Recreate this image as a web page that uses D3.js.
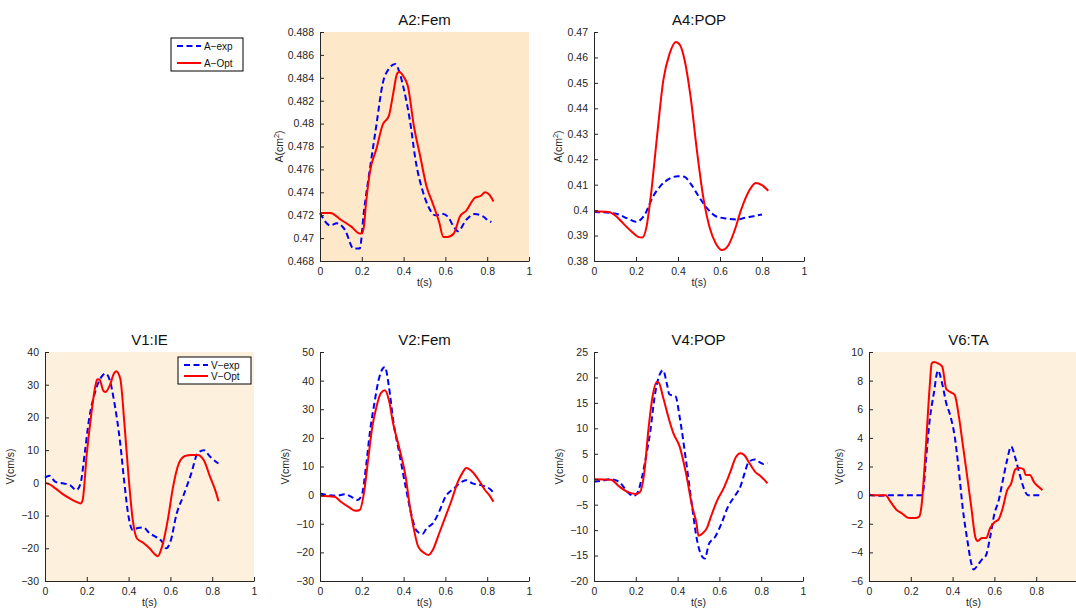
<!DOCTYPE html>
<html><head><meta charset="utf-8">
<script src="https://cdn.jsdelivr.net/npm/d3@7"></script>
<style>body{margin:0;background:#fff}svg{display:block;font-family:"Liberation Sans",Arial,Helvetica,sans-serif}</style>
</head><body><svg id="c" width="1076" height="611"></svg>
<script>
// ---------- data ----------
const a2ExpT = [0,0.05,0.08,0.12,0.16,0.19,0.21,0.24,0.27,0.30,0.33,0.36,0.38,0.40,0.43,0.46,0.49,0.52,0.55,0.59,0.61,0.64,0.66,0.70,0.74,0.78,0.80,0.82];
const a2Exp  = [0.4722,0.4711,0.4713,0.4707,0.4691,0.4691,0.4723,0.4762,0.4799,0.4835,0.4848,0.4852,0.4845,0.4831,0.4803,0.4765,0.4742,0.4727,0.4720,0.4721,0.4719,0.4710,0.4706,0.4716,0.4721,0.4719,0.4716,0.4714];
const a2OptT = [0,0.05,0.10,0.15,0.19,0.20,0.21,0.22,0.24,0.27,0.30,0.33,0.35,0.37,0.38,0.40,0.42,0.45,0.48,0.51,0.54,0.57,0.59,0.61,0.64,0.67,0.70,0.74,0.77,0.79,0.81,0.83];
const a2Opt  = [0.4722,0.4722,0.4716,0.4710,0.4704,0.4704,0.4710,0.4730,0.4759,0.4778,0.4799,0.4807,0.4826,0.4844,0.4845,0.4841,0.4833,0.4797,0.4771,0.4745,0.4730,0.4714,0.4701,0.4701,0.4704,0.4719,0.4724,0.4735,0.4737,0.4740,0.4738,0.4732];

const a4ExpT = [0,0.10,0.16,0.20,0.24,0.28,0.32,0.36,0.40,0.43,0.46,0.50,0.54,0.58,0.63,0.68,0.72,0.76,0.80];
const a4Exp  = [0.3993,0.3987,0.3967,0.3954,0.3980,0.4052,0.4098,0.4124,0.4133,0.4131,0.4104,0.4052,0.4006,0.3976,0.3967,0.3963,0.3970,0.3976,0.3983];
const a4OptT = [0,0.07,0.10,0.14,0.18,0.21,0.23,0.25,0.27,0.30,0.33,0.36,0.39,0.41,0.43,0.46,0.49,0.52,0.55,0.58,0.61,0.64,0.67,0.70,0.74,0.77,0.80,0.83];
const a4Opt  = [0.3996,0.3993,0.3980,0.3947,0.3915,0.3895,0.3892,0.3934,0.4052,0.4288,0.4510,0.4615,0.4661,0.4648,0.4595,0.4445,0.4235,0.4052,0.3934,0.3869,0.3843,0.3862,0.3921,0.4000,0.4078,0.4107,0.4098,0.4076];

const v1ExpT = [0,0.02,0.05,0.09,0.12,0.15,0.17,0.19,0.21,0.24,0.27,0.29,0.31,0.33,0.36,0.38,0.40,0.42,0.44,0.47,0.50,0.53,0.56,0.58,0.60,0.63,0.66,0.70,0.73,0.76,0.79,0.83];
const v1Exp  = [1.6,2.2,0.3,-0.2,-0.7,-2.2,-0.2,9.0,19.1,27.8,32.4,33.4,31.4,25.2,12.0,-0.2,-10.4,-14.4,-13.9,-13.6,-15.4,-16.5,-18.0,-20.0,-18.0,-9.4,-4.3,2.9,9.0,10.0,8.0,5.9];
const v1OptT = [0,0.02,0.05,0.08,0.12,0.15,0.17,0.18,0.20,0.22,0.24,0.25,0.26,0.28,0.29,0.31,0.33,0.34,0.36,0.38,0.40,0.42,0.44,0.47,0.50,0.53,0.54,0.56,0.59,0.61,0.64,0.67,0.70,0.73,0.76,0.79,0.82,0.83];
const v1Opt  = [0.0,-0.4,-1.7,-3.2,-4.8,-5.8,-6.3,-5.3,9.0,20.2,29.3,31.7,31.6,28.1,27.8,29.8,33.4,34.1,31.9,18.1,1.8,-11.4,-17.0,-18.3,-20.0,-22.1,-22.4,-19.5,-10.4,-2.2,5.9,8.2,8.5,8.5,6.9,1.8,-3.3,-5.6];

const v2ExpT = [0,0.04,0.08,0.12,0.15,0.18,0.20,0.22,0.24,0.26,0.28,0.30,0.31,0.33,0.35,0.38,0.41,0.44,0.46,0.49,0.51,0.54,0.57,0.60,0.64,0.68,0.70,0.73,0.77,0.81,0.83];
const v2Exp  = [0.6,0.0,-0.2,0.3,-0.6,-1.7,0.0,9.9,22.7,32.0,40.1,44.2,44.8,37.8,26.2,14.5,2.8,-7.6,-12.2,-13.6,-11.6,-9.9,-5.8,-0.6,2.3,4.7,5.2,4.1,3.5,2.3,0.9];
const v2OptT = [0,0.07,0.10,0.14,0.17,0.19,0.21,0.23,0.25,0.27,0.29,0.31,0.33,0.35,0.38,0.41,0.43,0.45,0.47,0.50,0.52,0.54,0.57,0.60,0.63,0.66,0.68,0.70,0.73,0.76,0.79,0.81,0.83];
const v2Opt  = [-0.2,-0.6,-2.3,-4.3,-5.5,-5.2,0.6,12.2,23.8,30.8,35.5,36.6,33.1,25.0,16.3,6.4,-4.1,-12.2,-18.0,-20.3,-20.9,-19.1,-13.4,-7.6,-1.7,4.7,7.6,9.5,8.1,5.2,1.7,0.0,-2.3];

const v4ExpT = [0,0.04,0.08,0.12,0.16,0.19,0.21,0.23,0.25,0.27,0.29,0.31,0.33,0.35,0.36,0.39,0.41,0.44,0.47,0.49,0.51,0.53,0.55,0.58,0.61,0.64,0.67,0.70,0.72,0.74,0.77,0.79,0.81,0.83];
const v4Exp  = [-0.5,-0.3,0.0,-0.5,-2.5,-3.3,-2.5,0.5,4.7,9.6,16.2,20.1,21.4,18.5,16.7,16.3,12.2,3.7,-5.5,-11.3,-14.6,-15.6,-12.7,-11.3,-8.7,-5.5,-3.5,-1.5,1.1,3.4,3.9,3.4,3.0,3.2];
const v4OptT = [0,0.08,0.12,0.16,0.20,0.22,0.24,0.26,0.28,0.30,0.31,0.33,0.36,0.38,0.41,0.44,0.47,0.49,0.50,0.52,0.54,0.56,0.59,0.62,0.65,0.68,0.70,0.72,0.74,0.77,0.80,0.83];
const v4Opt  = [0.0,-0.1,-1.4,-2.5,-2.9,-2.5,1.1,9.6,16.2,19.1,19.0,16.2,11.6,9.0,6.4,1.2,-5.4,-8.6,-11.1,-10.6,-9.6,-7.3,-4.1,-1.8,1.2,4.4,5.1,4.7,3.4,1.5,0.5,-0.8];

const v6ExpT = [0,0.05,0.10,0.20,0.25,0.26,0.27,0.29,0.31,0.33,0.35,0.37,0.39,0.41,0.43,0.45,0.47,0.49,0.50,0.52,0.54,0.56,0.58,0.60,0.62,0.64,0.66,0.68,0.70,0.72,0.74,0.76,0.80,0.83];
const v6Exp  = [0.05,-0.05,0.0,0.0,0.0,0.35,2.0,5.2,7.1,8.7,7.8,6.4,5.5,4.1,1.7,-1.1,-3.1,-4.8,-5.2,-4.9,-4.5,-4.2,-2.9,-1.3,-0.4,1.0,2.4,3.4,2.6,1.5,0.5,0.0,0.0,0.0];
const v6OptT = [0,0.08,0.10,0.13,0.16,0.19,0.22,0.24,0.25,0.27,0.29,0.30,0.31,0.33,0.35,0.37,0.39,0.41,0.43,0.45,0.47,0.49,0.51,0.52,0.54,0.56,0.58,0.60,0.62,0.64,0.66,0.68,0.70,0.72,0.74,0.75,0.77,0.79,0.81,0.83];
const v6Opt  = [0.0,0.0,-0.4,-1.0,-1.3,-1.6,-1.6,-1.5,-0.9,2.9,7.5,9.2,9.3,9.2,9.0,7.4,7.2,7.0,5.5,3.4,1.3,-0.9,-3.0,-3.2,-3.0,-3.0,-2.3,-1.9,-1.7,-0.9,0.3,0.8,1.8,1.9,1.8,1.4,1.4,0.9,0.6,0.35];

const xTicks = [0,0.2,0.4,0.6,0.8,1];
const xTickLabels = ["0","0.2","0.4","0.6","0.8","1"];
const xTicksClipped = [0,0.2,0.4,0.6,0.8];
const a2YTicks = [0.468,0.47,0.472,0.474,0.476,0.478,0.48,0.482,0.484,0.486,0.488];
const a4YTicks = [0.38,0.39,0.4,0.41,0.42,0.43,0.44,0.45,0.46,0.47];
const v1YTicks = [-30,-20,-10,0,10,20,30,40];
const v2YTicks = [-30,-20,-10,0,10,20,30,40,50];
const v4YTicks = [-20,-15,-10,-5,0,5,10,15,20,25];
const v6YTicks = [-6,-4,-2,0,2,4,6,8,10];

// ---------- layout ----------
const panels = [
  {title:"A2:Fem", x0:320,x1:529,y0:32,y1:261, yd:[0.468,0.488], yt:a2YTicks, xt:xTicks, bg:"#fde8c9", yl:"A", ylx:37,
   exp:[a2ExpT,a2Exp], opt:[a2OptT,a2Opt]},
  {title:"A4:POP", x0:594,x1:804,y0:32,y1:261, yd:[0.38,0.47], yt:a4YTicks, xt:xTicks, bg:null, yl:"A", ylx:32,
   exp:[a4ExpT,a4Exp], opt:[a4OptT,a4Opt]},
  {title:"V1:IE", x0:45,x1:254,y0:352,y1:581, yd:[-30,40], yt:v1YTicks, xt:xTicks, bg:"#fdf0dc", yl:"V", ylx:31,
   exp:[v1ExpT,v1Exp], opt:[v1OptT,v1Opt]},
  {title:"V2:Fem", x0:320,x1:529,y0:352,y1:581, yd:[-30,50], yt:v2YTicks, xt:xTicks, bg:null, yl:"V", ylx:31,
   exp:[v2ExpT,v2Exp], opt:[v2OptT,v2Opt]},
  {title:"V4:POP", x0:594,x1:803,y0:352,y1:581, yd:[-20,25], yt:v4YTicks, xt:xTicks, bg:null, yl:"V", ylx:31,
   exp:[v4ExpT,v4Exp], opt:[v4OptT,v4Opt]},
  {title:"V6:TA", x0:869,x1:1078,y0:352,y1:581, yd:[-6,10], yt:v6YTicks, xt:xTicksClipped, bg:"#fdf0dc", yl:"V", ylx:26,
   exp:[v6ExpT,v6Exp], opt:[v6OptT,v6Opt]}
];

const svg = d3.select("#c");
const axisCol = "#262626";
const fmt = v => { let s = String(+v.toFixed(4)); return s.replace("-", "\u2212"); };

panels.forEach(p => {
  const x = d3.scaleLinear().domain([0,1]).range([p.x0,p.x1]);
  const y = d3.scaleLinear().domain(p.yd).range([p.y1,p.y0]);
  const g = svg.append("g");
  if (p.bg) g.append("rect").attr("x",p.x0).attr("y",p.y0).attr("width",p.x1-p.x0).attr("height",p.y1-p.y0).attr("fill",p.bg);

  const line = d3.line().x(d=>x(d[0])).y(d=>y(d[1])).curve(d3.curveMonotoneX);
  const expPts = p.exp[0].map((t,i)=>[t,p.exp[1][i]]);
  const optPts = p.opt[0].map((t,i)=>[t,p.opt[1][i]]);
  g.append("path").attr("d",line(expPts)).attr("fill","none").attr("stroke","#0000ff")
    .attr("stroke-width",2).attr("stroke-dasharray","6,3.5");
  g.append("path").attr("d",line(optPts)).attr("fill","none").attr("stroke","#ff0000")
    .attr("stroke-width",2);

  // axes (MATLAB style, ticks inward)
  const xa = d3.axisBottom(x).tickValues(p.xt).tickFormat(d=>xTickLabels[xTicks.indexOf(d)]).tickSizeInner(-4).tickSizeOuter(0).tickPadding(7);
  const ya = d3.axisLeft(y).tickValues(p.yt).tickFormat(fmt).tickSizeInner(-4).tickSizeOuter(0).tickPadding(6);
  const gx = g.append("g").attr("transform",`translate(0,${p.y1})`).call(xa);
  const gy = g.append("g").attr("transform",`translate(${p.x0},0)`).call(ya);
  [gx,gy].forEach(a=>{
    a.select(".domain").attr("stroke",axisCol).attr("stroke-width",1);
    a.selectAll(".tick line").attr("stroke",axisCol);
    a.selectAll("text").attr("fill",axisCol).attr("font-size",10.5).attr("font-family","'Liberation Sans',Arial,sans-serif");
  });

  g.append("text").attr("x",(p.x0+p.x1)/2 + (p.title==="V6:TA"?-5:0)).attr("y",p.y0-7).attr("text-anchor","middle")
    .attr("font-size",15).attr("fill","#111").text(p.title);
  g.append("text").attr("x",(p.x0+p.x1)/2).attr("y",p.y1+25).attr("text-anchor","middle")
    .attr("font-size",10.5).attr("fill",axisCol).text("t(s)");
  const yl = g.append("text").attr("transform",`translate(${p.x0-p.ylx},${(p.y0+p.y1)/2}) rotate(-90)`)
    .attr("text-anchor","middle").attr("font-size",10.5).attr("fill",axisCol);
  if (p.yl==="A") { yl.text("A(cm"); yl.append("tspan").attr("dy",-4).attr("font-size",7.5).text("2"); yl.append("tspan").attr("dy",4).text(")"); }
  else yl.text("V(cm/s)");
});

// legends
function legend(x, y, w, h, labels) {
  const g = svg.append("g");
  g.append("rect").attr("x",x).attr("y",y).attr("width",w).attr("height",h).attr("fill","#fff").attr("stroke","#000").attr("stroke-width",1);
  const styles = [{c:"#0000ff",d:"6,3.5"},{c:"#ff0000",d:null}];
  labels.forEach((lab,i)=>{
    const yy = y + 8 + i*(h-16);
    const l = g.append("line").attr("x1",x+6).attr("x2",x+30).attr("y1",yy).attr("y2",yy)
      .attr("stroke",styles[i].c).attr("stroke-width",2);
    if (styles[i].d) l.attr("stroke-dasharray",styles[i].d);
    g.append("text").attr("x",x+33).attr("y",yy+3.5).attr("font-size",10).attr("fill","#111").text(lab);
  });
}
legend(171,38,72,33,["A\u2212exp","A\u2212Opt"]);
legend(178,357,73,27,["V\u2212exp","V\u2212Opt"]);
</script></body></html>
